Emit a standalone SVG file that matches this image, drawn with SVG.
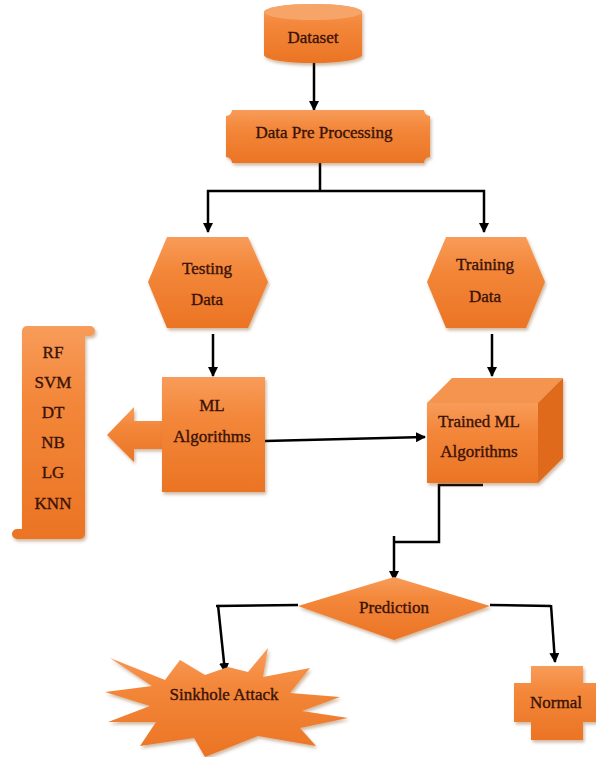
<svg xmlns="http://www.w3.org/2000/svg" width="596" height="757" viewBox="0 0 596 757">
  <style>
    .shape { fill: url(#orange); filter: url(#shadow); }
    .side { fill: #E06A1C; }
    .top { fill: #F49450; }
    .label { font-family: "Liberation Serif", "Times New Roman", serif; font-size: 17px; fill: #3a1207; stroke: #3a1207; stroke-width: 0.35; text-anchor: middle; dominant-baseline: central; }
    .wire { fill: none; stroke: #000; stroke-width: 2.5; }
    .arrow { fill: none; stroke: #000; stroke-width: 2.5; marker-end: url(#head); }
  </style>
  <defs>
    <linearGradient id="orange" x1="0" y1="0" x2="0" y2="1">
      <stop offset="0" stop-color="#F89C5A"/>
      <stop offset="0.35" stop-color="#F3873A"/>
      <stop offset="1" stop-color="#EB7424"/>
    </linearGradient>
    <filter id="shadow" x="-10%" y="-10%" width="125%" height="130%">
      <feDropShadow dx="1.5" dy="2.5" stdDeviation="1.8" flood-color="#7a3a10" flood-opacity="0.35"/>
    </filter>
    <marker id="head" viewBox="0 0 10 10" refX="9" refY="5" markerWidth="4" markerHeight="4" orient="auto" markerUnits="strokeWidth">
      <path d="M0,0 L10,5 L0,10 Z" fill="#000"/>
    </marker>
  </defs>

  <!-- connectors -->
  <g id="connectors">
    <line class="arrow" x1="314" y1="63" x2="314" y2="110"/>
    <line class="wire" x1="320" y1="163" x2="320" y2="191"/>
    <line class="wire" x1="207" y1="191" x2="485" y2="191"/>
    <line class="arrow" x1="208" y1="190" x2="208" y2="232"/>
    <line class="arrow" x1="484" y1="190" x2="484" y2="232"/>
    <line class="arrow" x1="213" y1="334" x2="213" y2="376"/>
    <line class="arrow" x1="492" y1="334" x2="492" y2="376"/>
    <line class="arrow" x1="265" y1="441" x2="425" y2="437"/>
    <polyline class="wire" points="483,485 439,485 439,542 394,542"/>
    <line class="arrow" x1="394" y1="536" x2="394" y2="580"/>
    <polyline class="wire" points="298,605 216,606"/>
    <line class="arrow" x1="218" y1="605" x2="225" y2="672"/>
    <polyline class="wire" points="490,605 551,606"/>
    <line class="arrow" x1="551" y1="605" x2="555" y2="662"/>
  </g>

  <!-- Dataset cylinder -->
  <g id="dataset">
    <path class="shape" d="M264,12 A49,8 0 0 1 362,12 L362,55 A49,8 0 0 1 264,55 Z"/>
    <ellipse cx="313" cy="12" rx="49" ry="8" fill="#F7A468"/>
    <text class="label" x="313" y="37">Dataset</text>
  </g>

  <!-- Data Pre Processing plaque -->
  <g id="preprocessing">
    <path class="shape" d="M232,110 L424,110 A6,6 0 0 0 430,116 L430,157 A6,6 0 0 0 424,163 L232,163 A6,6 0 0 0 226,157 L226,116 A6,6 0 0 0 232,110 Z"/>
    <text class="label" x="324" y="132">Data Pre Processing</text>
  </g>

  <!-- Testing Data hexagon -->
  <g id="testing">
    <polygon class="shape" points="148,282 167,237 248,237 268,282 248,328 167,328"/>
    <text class="label" x="207" y="268">Testing</text>
    <text class="label" x="207" y="299">Data</text>
  </g>

  <!-- Training Data hexagon -->
  <g id="training">
    <polygon class="shape" points="427,282 446,237 526,237 545,282 526,328 446,328"/>
    <text class="label" x="485" y="264">Training</text>
    <text class="label" x="485" y="296">Data</text>
  </g>

  <!-- Algorithm list scroll -->
  <g id="algorithm-list">
    <path class="shape" d="M22,331 A5,5 0 0 1 27,326 L90,326 A5,5 0 0 1 90,336 L85,336 L85,534 A5,5 0 0 1 80,539 L17,539 A5,5 0 0 1 17,529 L22,529 Z"/>
    <text class="label" x="53" y="352">RF</text>
    <text class="label" x="53" y="382">SVM</text>
    <text class="label" x="53" y="412">DT</text>
    <text class="label" x="53" y="442">NB</text>
    <text class="label" x="53" y="472">LG</text>
    <text class="label" x="53" y="503">KNN</text>
  </g>

  <!-- block arrow toward the list -->
  <g id="list-arrow">
    <polygon class="shape" points="107,435 134,407 134,421 163,421 163,449 134,449 134,462"/>
  </g>

  <!-- ML Algorithms box -->
  <g id="ml-algorithms">
    <rect class="shape" x="162" y="377" width="103" height="115"/>
    <text class="label" x="212" y="405">ML</text>
    <text class="label" x="212" y="436">Algorithms</text>
  </g>

  <!-- Trained ML Algorithms cube -->
  <g id="trained-ml">
    <g filter="url(#shadow)">
      <rect x="427" y="403" width="111" height="80" fill="url(#orange)"/>
      <polygon class="top" points="427,403 452,378 563,378 538,403"/>
      <polygon class="side" points="538,403 563,378 563,458 538,483"/>
    </g>
    <text class="label" x="479" y="421">Trained ML</text>
    <text class="label" x="479" y="451">Algorithms</text>
  </g>

  <!-- Prediction diamond -->
  <g id="prediction">
    <polygon class="shape" points="298,606 394,577 490,606 394,640"/>
    <text class="label" x="394" y="607">Prediction</text>
  </g>

  <!-- Sinkhole Attack burst -->
  <g id="sinkhole">
    <path class="shape" d="M110,658 L165,680 L180,660 L205,675 L228,667 L248,672 L268,648 L263,677 L310,668 L290,693 L340,697 L302,711 L348,718 L300,728 L316,746 L258,736 L205,757 L194,738 L140,746 L156,722 L108,722 L150,706 L105,692 L152,686 Z"/>
    <text class="label" x="224" y="694">Sinkhole Attack</text>
  </g>

  <!-- Normal cross -->
  <g id="normal">
    <path class="shape" d="M531,666 L583,666 L583,683 L596,683 L596,722 L583,722 L583,740 L531,740 L531,722 L514,722 L514,683 L531,683 Z"/>
    <text class="label" x="556" y="702">Normal</text>
  </g>
</svg>
